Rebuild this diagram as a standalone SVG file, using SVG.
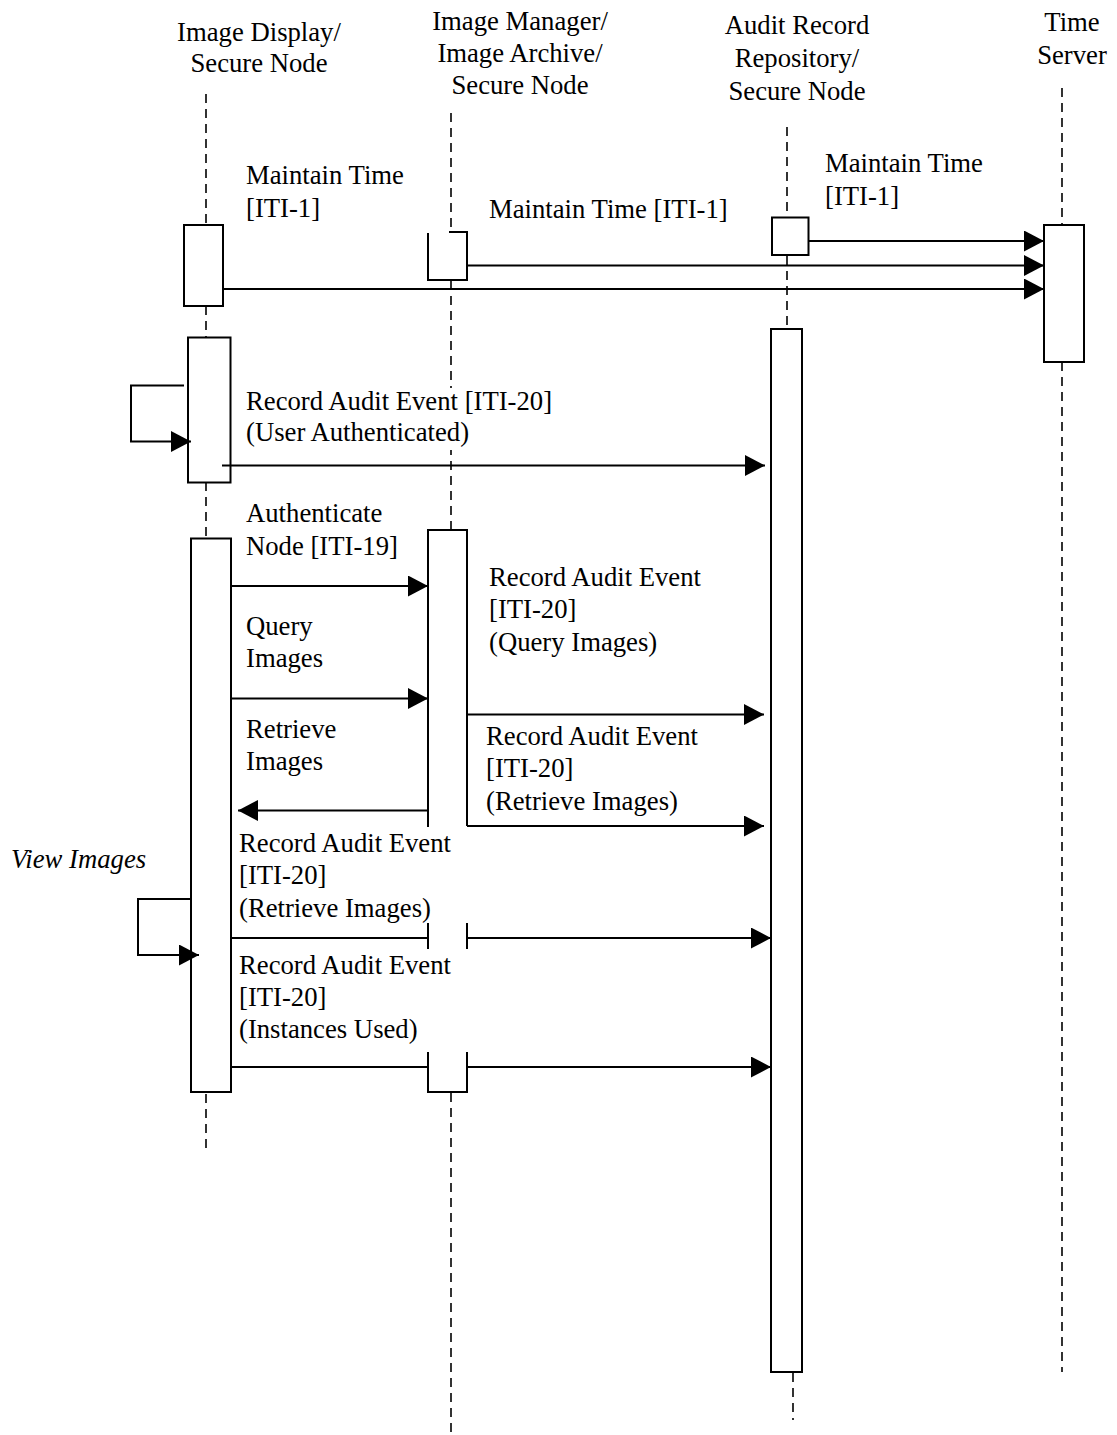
<svg xmlns="http://www.w3.org/2000/svg" width="1117" height="1435" viewBox="0 0 1117 1435">
<style>
text{font-family:"Liberation Serif","Times New Roman",serif;font-size:26.7px;fill:#000}
.c{text-anchor:middle}
.it{font-style:italic}
.life{stroke:#000;stroke-width:1.6;stroke-dasharray:9 6;fill:none}
.box{stroke:#000;stroke-width:2;fill:#fff}
.open{stroke:#000;stroke-width:2;fill:none}
.msg{stroke:#000;stroke-width:2;fill:none;marker-end:url(#ah)}
</style>
<defs>
<marker id="ah" markerUnits="userSpaceOnUse" markerWidth="20" markerHeight="21" refX="20" refY="10.5" orient="auto" viewBox="0 0 20 21">
<path d="M0,0 L20,10.5 L0,21 z" fill="#000"/>
</marker>
</defs>
<rect width="1117" height="1435" fill="#fff"/>

<g id="display">
<text class="c" x="259" y="41">Image Display/</text>
<text class="c" x="259" y="72">Secure Node</text>
<line class="life" x1="206" y1="94" x2="206" y2="225"/>
<line class="life" x1="206" y1="306" x2="206" y2="337"/>
<line class="life" x1="206" y1="482" x2="206" y2="538"/>
<line class="life" x1="206" y1="1094" x2="206" y2="1148"/>
<rect class="box" x="184" y="225" width="39" height="81"/>
<rect class="box" x="188" y="337.5" width="42.5" height="145"/>
<rect class="box" x="191" y="538.5" width="40" height="553.5"/>
</g>

<g id="manager">
<text class="c" x="520" y="30">Image Manager/</text>
<text class="c" x="520" y="62">Image Archive/</text>
<text class="c" x="520" y="94">Secure Node</text>
<line class="life" x1="451" y1="113" x2="451" y2="232"/>
<line class="life" x1="451" y1="281" x2="451" y2="530"/>
<line class="life" x1="451" y1="1093" x2="451" y2="1435"/>
<path class="open" d="M428,233 V280 H467 V232 H449"/>
<path class="open" d="M428,827 V530 H467 V826"/>
<path class="open" d="M428,923 V949 M467,923 V949"/>
<path class="open" d="M428,1052 V1092 H467 V1052"/>
</g>

<g id="repository">
<text class="c" x="797" y="34">Audit Record</text>
<text class="c" x="797" y="67">Repository/</text>
<text class="c" x="797" y="100">Secure Node</text>
<line class="life" x1="787" y1="127" x2="787" y2="217"/>
<line class="life" x1="787" y1="256" x2="787" y2="329"/>
<line class="life" x1="793" y1="1373" x2="793" y2="1420"/>
<rect class="box" x="772" y="217.5" width="36.5" height="37.5"/>
<rect class="box" x="771" y="329" width="31" height="1043"/>
</g>

<g id="timeserver">
<text class="c" x="1072" y="31">Time</text>
<text class="c" x="1072" y="64">Server</text>
<line class="life" x1="1062" y1="88" x2="1062" y2="225"/>
<line class="life" x1="1062" y1="362" x2="1062" y2="1372"/>
<rect class="box" x="1044" y="225" width="40" height="137"/>
</g>

<g id="connectors">
<line class="msg" x1="808" y1="241" x2="1044" y2="241"/>
<line class="msg" x1="467" y1="265.5" x2="1044" y2="265.5"/>
<line class="msg" x1="223" y1="289" x2="1044" y2="289"/>
<path class="msg" d="M184,385.5 H131 V441.5 H191"/>
<line class="msg" x1="222" y1="465.5" x2="765" y2="465.5"/>
<line class="msg" x1="231" y1="586" x2="428" y2="586"/>
<line class="msg" x1="231" y1="698.5" x2="428" y2="698.5"/>
<line class="msg" x1="428" y1="810.5" x2="238" y2="810.5"/>
<line class="msg" x1="467" y1="714.5" x2="764" y2="714.5"/>
<line class="msg" x1="467" y1="826" x2="764" y2="826"/>
<path class="msg" d="M191,899 H138 V955 H199"/>
<line class="open" x1="231" y1="938" x2="428" y2="938"/>
<line class="msg" x1="467" y1="938" x2="771" y2="938"/>
<line class="open" x1="231" y1="1067" x2="428" y2="1067"/>
<line class="msg" x1="467" y1="1067" x2="771" y2="1067"/>
</g>

<g id="labels">
<text x="246" y="184">Maintain Time</text>
<text x="246" y="217">[ITI-1]</text>
<text x="489" y="218">Maintain Time [ITI-1]</text>
<text x="825" y="172">Maintain Time</text>
<text x="825" y="205">[ITI-1]</text>
<rect x="244" y="388" width="312" height="62" fill="#fff"/>
<text x="246" y="410">Record Audit Event [ITI-20]</text>
<text x="246" y="441">(User Authenticated)</text>
<text x="246" y="522">Authenticate</text>
<text x="246" y="555">Node [ITI-19]</text>
<text x="246" y="635">Query</text>
<text x="246" y="667">Images</text>
<text x="246" y="738">Retrieve</text>
<text x="246" y="770">Images</text>
<text x="489" y="586">Record Audit Event</text>
<text x="489" y="618">[ITI-20]</text>
<text x="489" y="651">(Query Images)</text>
<text x="486" y="745">Record Audit Event</text>
<text x="486" y="777">[ITI-20]</text>
<text x="486" y="810">(Retrieve Images)</text>
<text x="239" y="852">Record Audit Event</text>
<text x="239" y="884">[ITI-20]</text>
<text x="239" y="917">(Retrieve Images)</text>
<text x="239" y="974">Record Audit Event</text>
<text x="239" y="1006">[ITI-20]</text>
<text x="239" y="1038">(Instances Used)</text>
<text class="it" x="11" y="868">View Images</text>
</g>
</svg>
